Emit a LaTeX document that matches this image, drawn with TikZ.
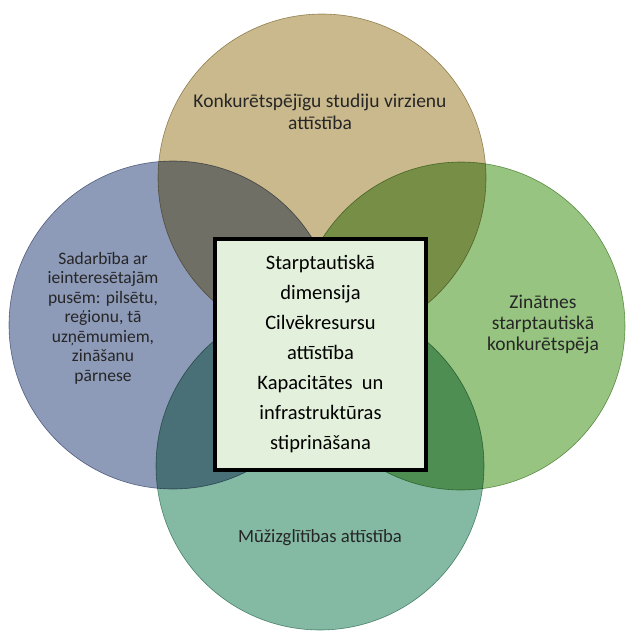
\documentclass[tikz,border=0pt]{standalone}
\usepackage{fontspec}
\setmainfont{Carlito}
\definecolor{tancol}{HTML}{C9B98C}
\definecolor{bluecol}{HTML}{8D9AB8}
\definecolor{greencol}{HTML}{97C480}
\definecolor{tealcol}{HTML}{84BAA4}
\definecolor{boxcol}{HTML}{E3F0DB}
\tikzset{
  bubble/.style={circle, minimum size=328pt, inner sep=0pt, draw=#1!85!black, line width=0.6pt, fill=#1, blend mode=multiply,
    path picture={\draw[white, opacity=0.22, line width=3pt] (path picture bounding box.center) circle (158pt);}},
  bubbletext/.style={align=center, font=\fontsize{19.5}{22}\selectfont, text=black!85},
  centrebox/.style={rectangle, draw=black, line width=4.5pt, fill=boxcol, minimum width=211pt, minimum height=231pt, align=center, font=\fontsize{20.5}{30}\selectfont}
}
\begin{document}
\begin{tikzpicture}[x=1pt,y=-1pt]
    \useasboundingbox (0,0) rectangle (625,631);
    \fill[white] (0,0) rectangle (625,631);

    \node[bubble=tancol] (ctop) at (322,178) {};
    \node[bubble=bluecol] (cleft) at (173,325) {};
    \node[bubble=greencol] (cright) at (461,326) {};
    \node[bubble=tealcol] (cbottom) at (320,466) {};

    \node[bubbletext] (ttop) at (320,112) {Konkurētspējīgu studiju virzienu\\attīstība};
    \node[bubbletext, font=\fontsize{17.5}{19.5}\selectfont] (tleft) at (103,318) {Sadarbība ar\\ieinteresētajām\\pusēm: pilsētu,\\reģionu, tā\\uzņēmumiem,\\zināšanu\\pārnese};
    \node[bubbletext, font=\fontsize{19.5}{21}\selectfont] (tright) at (543,324) {Zinātnes\\starptautiskā\\konkurētspēja};
    \node[bubbletext, font=\fontsize{18.7}{22}\selectfont] (tbottom) at (320,538) {Mūžizglītības attīstība};

    \node[centrebox] (centre) at (320.5,354.5) {Starptautiskā\\dimensija\\Cilvēkresursu\\attīstība\\Kapacitātes\ \ un\\infrastruktūras\\stiprināšana};
\end{tikzpicture}
\end{document}
